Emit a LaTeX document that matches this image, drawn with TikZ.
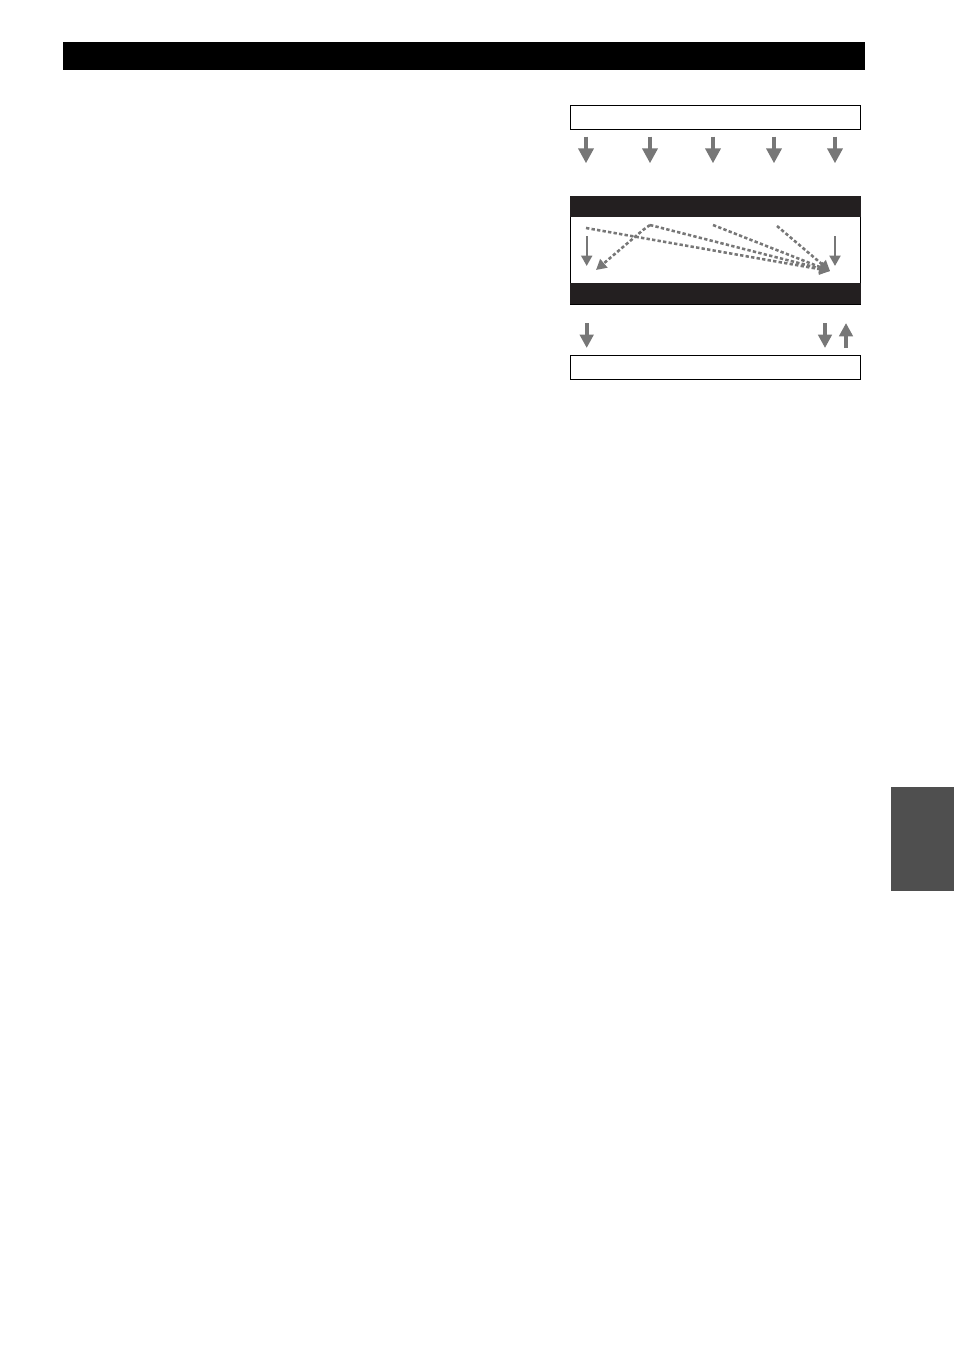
\documentclass[tikz,border=0pt]{standalone}
\usetikzlibrary{arrows.meta}
\definecolor{arrowgray}{HTML}{777777}
\definecolor{bandblack}{HTML}{231F20}
\definecolor{tabgray}{HTML}{4F4F4F}
\tikzset{
  box/.style={draw, line width=0.6pt, inner sep=0pt, outer sep=0pt, minimum width=6.4058cm},
  band/.style={fill=bandblack, inner sep=0pt, outer sep=0pt, minimum width=6.4058cm, minimum height=0.4623cm},
  fat arrow/.style={draw=arrowgray, line width=2.5pt, -{Triangle[length=9.4pt,width=9.4pt]}},
  low arrow/.style={draw=arrowgray, line width=2.5pt, -{Triangle[length=8.4pt,width=8.4pt]}},
  thin arrow/.style={draw=arrowgray, line width=1.5pt, -{Triangle[length=6.5pt,width=6.8pt]}},
  dot line/.style={draw=arrowgray, line width=1.6pt, dash pattern=on 2.1pt off 1.4pt},
  dot arrow/.style={dot line, -{Triangle[length=6.5pt,width=6.8pt]}},
}
\begin{document}
\begin{tikzpicture}[x=0.022013cm, y=-0.022013cm]
                \useasboundingbox (0,0) rectangle (954,1348);
                
                % Header bar
                \node (header) [fill=black, inner sep=0pt, minimum width=17.654cm, minimum height=0.6164cm] at (464,56) {};
                
                % Side tab
                \node (tab) [fill=tabgray, inner sep=0pt, minimum width=1.3868cm, minimum height=2.2894cm] at (922.5,839) {};
                
                % Boxes
                \node (inbox) [box, minimum height=0.5283cm] at (715.5,117) {};
                \node (midbox) [box, minimum height=2.3774cm] at (715.5,250) {};
                \node (midtop) [band, anchor=north] at (midbox.north) {};
                \node (midbot) [band, anchor=south] at (midbox.south) {};
                \node (outbox) [box, minimum height=0.5283cm] at (715.5,367) {};
                
                % Arrows into the middle box
                \foreach \i/\x in {1/586,2/650,3/713,4/774,5/835} {
                  \coordinate (in\i) at (\x,136.7);
                  \coordinate (mid\i) at (\x,163.3);
                  \draw [fat arrow] (in\i) -- (mid\i);
                }
                
                % Routing inside the middle box
                \coordinate (ch1) at (586,228);
                \coordinate (ch2) at (650,225);
                \coordinate (bend) at (643,230);
                \coordinate (ch3) at (713,225);
                \coordinate (ch4) at (777,226);
                \coordinate (left) at (596,270);
                \coordinate (right) at (830,271);
                \draw [dot arrow] (ch1) -- (right);
                \draw [dot arrow] (ch2) -- (right);
                \draw [dot arrow] (ch2) -- (bend) -- (left);
                \draw [dot arrow] (ch3) -- (right);
                \draw [dot arrow] (ch4) -- (right);
                \coordinate (la) at (586.7,236);
                \coordinate (lb) at (586.7,266);
                \coordinate (ra) at (835,236);
                \coordinate (rb) at (835,266);
                \draw [thin arrow] (la) -- (lb);
                \draw [thin arrow] (ra) -- (rb);
                
                % Arrows to and from the lower box
                \coordinate (o1) at (586.7,323);
                \coordinate (p1) at (586.7,348);
                \coordinate (o2) at (825,323);
                \coordinate (p2) at (825,348);
                \coordinate (o3) at (846,348);
                \coordinate (p3) at (846,323);
                \draw [low arrow] (o1) -- (p1);
                \draw [low arrow] (o2) -- (p2);
                \draw [low arrow] (o3) -- (p3);
            \end{tikzpicture}
\end{document}
